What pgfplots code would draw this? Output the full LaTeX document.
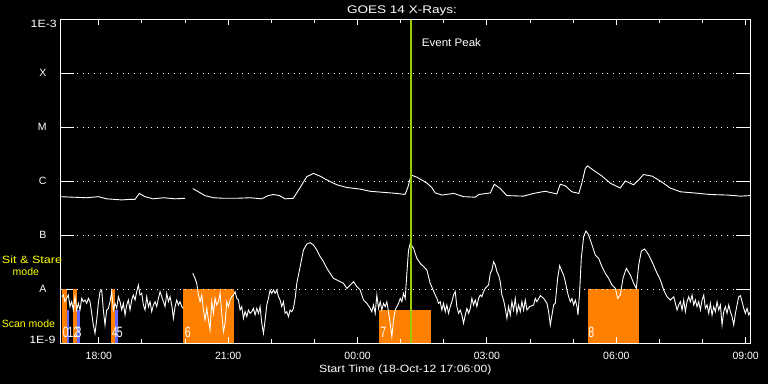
\documentclass[border=0pt]{standalone}
\usepackage{pgfplots}
\pgfplotsset{compat=1.18}
\usepackage{fontspec}
\setmainfont{Liberation Sans}
\definecolor{barorange}{RGB}{255,128,0}
\definecolor{barblue}{RGB}{102,102,255}
\definecolor{peakgreen}{RGB}{153,204,0}
\definecolor{labyellow}{RGB}{255,255,0}
\newcommand{\tf}{\fontsize{10.5}{12}\selectfont}
\newcommand{\tg}{\fontsize{11}{13}\selectfont}
\newcommand{\bignum}[1]{{\fontsize{15}{15}\selectfont\scalebox{0.7}[1]{#1}}}
\begin{document}
\begin{tikzpicture}[x=1pt,y=1pt]
\fill[black] (-60,-41) rectangle (708,343);
\begin{axis}[
  at={(0,0)}, anchor=south west,
  scale only axis, width=690pt, height=324pt,
  xmin=17.1, xmax=33.1, ymin=-9, ymax=-3,
  axis on top,
  axis line style={white, line width=0.9pt},
  xtick={18,21,24,27,30,33},
  xticklabels={18:00,21:00,00:00,03:00,06:00,09:00},
  minor xtick={19,20,22,23,25,26,28,29,31,32},
  major tick length=6pt, minor tick length=4pt,
  tick style={white, line width=0.9pt},
  ytick={-9,-8,-7,-6,-5,-4,-3},
  yticklabels={,A,B,C,M,X,},
  ytick style={draw=none},
  ymajorgrids,
  major grid style={white, line width=0.9pt, dash pattern=on 0.9pt off 4.8pt},
  /pgf/number format/assume math mode=true,
  ticklabel style={font=\tf, text=white},
  xticklabel style={anchor=base, yshift=-16pt, inner sep=0pt},
  yticklabel style={anchor=east, inner sep=0pt, xshift=-13.3pt},
  unbounded coords=jump,
]
% y tick segments (left and right)
\draw[white, line width=0.9pt] (axis cs:17.1,-8) -- (axis cs:17.425,-8);
\draw[white, line width=0.9pt] (axis cs:17.1,-7) -- (axis cs:17.425,-7);
\draw[white, line width=0.9pt] (axis cs:17.1,-6) -- (axis cs:17.425,-6);
\draw[white, line width=0.9pt] (axis cs:17.1,-5) -- (axis cs:17.425,-5);
\draw[white, line width=0.9pt] (axis cs:17.1,-4) -- (axis cs:17.425,-4);
\draw[white, line width=0.9pt] (axis cs:32.775,-8) -- (axis cs:33.1,-8);
\draw[white, line width=0.9pt] (axis cs:32.775,-7) -- (axis cs:33.1,-7);
\draw[white, line width=0.9pt] (axis cs:32.775,-6) -- (axis cs:33.1,-6);
\draw[white, line width=0.9pt] (axis cs:32.775,-5) -- (axis cs:33.1,-5);
\draw[white, line width=0.9pt] (axis cs:32.775,-4) -- (axis cs:33.1,-4);
% mode bars
\addplot[fill=barorange, draw=none] coordinates {(17.139,-9) (17.139,-8) (17.255,-8) (17.255,-9)} -- cycle;
\addplot[fill=barblue, draw=none] coordinates {(17.255,-9) (17.255,-8.389) (17.309,-8.389) (17.309,-9)} -- cycle;
\addplot[fill=barorange, draw=none] coordinates {(17.395,-9) (17.395,-8) (17.487,-8) (17.487,-9)} -- cycle;
\addplot[fill=barblue, draw=none] coordinates {(17.487,-9) (17.487,-8.389) (17.564,-8.389) (17.564,-9)} -- cycle;
\addplot[fill=barorange, draw=none] coordinates {(18.283,-9) (18.283,-8) (18.383,-8) (18.383,-9)} -- cycle;
\addplot[fill=barblue, draw=none] coordinates {(18.383,-9) (18.383,-8.389) (18.446,-8.389) (18.446,-9)} -- cycle;
\addplot[fill=barorange, draw=none] coordinates {(19.947,-9) (19.947,-8) (21.137,-8) (21.137,-9)} -- cycle;
\addplot[fill=barorange, draw=none] coordinates {(24.501,-9) (24.501,-8.389) (25.701,-8.389) (25.701,-9)} -- cycle;
\addplot[fill=barorange, draw=none] coordinates {(29.334,-9) (29.334,-8) (30.533,-8) (30.533,-9)} -- cycle;
% long channel (1-8 A)
\addplot[white, line width=0.9pt] coordinates {
(17.10,-6.29) (17.72,-6.31) (17.99,-6.29) (18.18,-6.33) (18.53,-6.35) (18.72,-6.34)
(18.84,-6.34) (18.94,-6.23) (19.07,-6.29) (19.26,-6.33) (19.50,-6.31) (19.77,-6.33)
(20.00,-6.32) (20.09,nan)
(20.18,-6.14) (20.31,-6.20) (20.46,-6.27) (20.66,-6.31) (20.89,-6.32) (21.20,-6.32)
(21.51,-6.31) (21.78,-6.33) (21.93,-6.27) (22.05,-6.25) (22.19,-6.27) (22.32,-6.33)
(22.51,-6.32) (22.67,-6.12) (22.82,-5.92) (22.98,-5.86) (23.13,-5.91) (23.29,-5.98)
(23.52,-6.07) (23.75,-6.12) (24.06,-6.15) (24.29,-6.19) (24.60,-6.21) (24.91,-6.23)
(25.10,-6.25) (25.17,-6.11) (25.24,-5.89) (25.38,-5.93) (25.61,-6.04) (25.72,-6.12)
(25.80,-6.22) (25.96,-6.26) (26.23,-6.23) (26.46,-6.29) (26.73,-6.30) (26.81,-6.25)
(27.08,-6.22) (27.17,-6.06) (27.31,-6.14) (27.46,-6.27) (27.85,-6.28) (28.08,-6.23)
(28.35,-6.19) (28.62,-6.24) (28.70,-6.06) (28.82,-6.09) (28.97,-6.20) (29.13,-6.23)
(29.20,-6.04) (29.28,-5.77) (29.33,-5.72) (29.47,-5.80) (29.67,-5.91) (29.86,-6.04)
(30.09,-6.13) (30.21,-6.00) (30.40,-6.07) (30.52,-5.98) (30.63,-5.88) (30.83,-5.91)
(31.02,-6.00) (31.25,-6.13) (31.49,-6.20) (31.79,-6.22) (32.18,-6.25) (32.57,-6.26)
(32.88,-6.28) (33.11,-6.27)
};
% short channel (0.5-4 A)
\addplot[white, line width=0.9pt] coordinates {
(17.139,-8.142) (17.177,-8.111) (17.216,-8.235) (17.255,-8.173) (17.293,-8.111) (17.332,-8.327)
(17.371,-8.235) (17.409,-8.389) (17.448,-8.142) (17.487,-8.389) (17.525,-8.265) (17.564,-8.389)
(17.603,-8.173) (17.641,-8.235) (17.680,-8.204) (17.719,-8.265) (17.757,-8.173) (17.796,-8.235)
(17.835,-8.451) (17.873,-8.667) (17.912,-8.821) (17.951,-8.574) (17.989,-8.265) (18.028,-8.049)
(18.067,-8.019) (18.105,-8.389) (18.144,-8.667) (18.183,-8.389) (18.221,-8.358) (18.260,-8.235)
(18.299,-8.049) (18.337,-8.389) (18.376,-8.265) (18.415,-8.358) (18.453,-8.142) (18.492,-8.235)
(18.531,-8.389) (18.569,-8.265) (18.608,-8.481) (18.647,-8.296) (18.685,-8.204) (18.724,-8.389)
(18.763,-8.204) (18.801,-8.111) (18.840,-8.204) (18.879,-8.049) (18.917,-7.926) (18.956,-8.111)
(18.995,-8.080) (19.034,-8.296) (19.072,-8.389) (19.111,-8.142) (19.150,-8.327) (19.188,-8.235)
(19.227,-8.420) (19.266,-8.296) (19.304,-8.235) (19.343,-8.327) (19.382,-8.173) (19.420,-8.049)
(19.459,-8.142) (19.498,-8.235) (19.536,-8.327) (19.575,-8.080) (19.614,-8.235) (19.652,-8.142)
(19.691,-8.296) (19.730,-8.543) (19.768,-8.327) (19.807,-8.204) (19.846,-8.296) (19.884,-8.235)
(19.923,-8.327) (19.962,-8.358) (20.07,nan)
(20.178,-7.710) (20.232,-7.802) (20.271,-7.895) (20.310,-8.111) (20.348,-8.235) (20.387,-8.111)
(20.426,-8.389) (20.464,-8.574) (20.503,-8.358) (20.542,-8.574) (20.580,-8.759) (20.619,-8.235)
(20.658,-8.451) (20.696,-8.173) (20.735,-8.296) (20.774,-8.235) (20.812,-8.080) (20.851,-8.451)
(20.890,-8.790) (20.928,-8.636) (20.967,-8.235) (21.006,-8.327) (21.044,-8.204) (21.083,-8.142)
(21.122,-8.111) (21.160,-8.049) (21.199,-8.173) (21.238,-8.204) (21.276,-8.389) (21.315,-8.327)
(21.354,-8.543) (21.392,-8.420) (21.431,-8.512) (21.470,-8.389) (21.508,-8.451) (21.547,-8.420)
(21.586,-8.358) (21.624,-8.481) (21.663,-8.358) (21.702,-8.451) (21.740,-8.327) (21.779,-8.636)
(21.818,-8.821) (21.856,-8.574) (21.895,-8.296) (21.934,-8.173) (21.972,-8.019) (22.011,-8.080)
(22.050,-8.019) (22.088,-8.080) (22.127,-8.019) (22.166,-8.142) (22.204,-8.204) (22.243,-8.327)
(22.282,-8.235) (22.320,-8.451) (22.359,-8.420) (22.398,-8.512) (22.436,-8.389) (22.475,-8.420)
(22.514,-8.358) (22.552,-8.173) (22.591,-7.895) (22.653,-7.648)
(22.746,-7.278) (22.823,-7.167) (22.901,-7.142) (22.978,-7.185) (23.055,-7.278) (23.133,-7.401)
(23.210,-7.494) (23.287,-7.617) (23.365,-7.710) (23.442,-7.802) (23.519,-7.833) (23.597,-7.864)
(23.674,-7.895) (23.751,-7.988) (23.829,-7.926) (23.906,-7.864) (23.983,-7.957) (24.061,-8.019)
(24.138,-8.204) (24.215,-8.265) (24.293,-8.358) (24.331,-8.420) (24.370,-8.296) (24.409,-8.451)
(24.447,-8.111) (24.486,-8.358) (24.525,-8.235) (24.563,-8.389) (24.602,-8.265) (24.641,-8.327)
(24.679,-8.235) (24.718,-8.420) (24.757,-8.636) (24.795,-8.883) (24.834,-8.574) (24.873,-8.389)
(24.911,-8.327) (24.950,-8.265) (24.989,-8.173) (25.027,-8.235) (25.066,-8.080) (25.105,-8.173)
(25.143,-7.710) (25.182,-7.278) (25.221,-7.154) (25.298,-7.247) (25.375,-7.432) (25.453,-7.525)
(25.530,-7.586) (25.607,-7.648) (25.685,-7.895) (25.801,-8.111) (25.839,-8.173) (25.878,-8.265)
(25.917,-8.235) (25.955,-8.389) (25.994,-8.265) (26.033,-8.420) (26.071,-8.296) (26.110,-8.451)
(26.149,-8.327) (26.187,-8.235) (26.226,-8.111) (26.265,-8.049) (26.303,-8.327) (26.342,-8.451)
(26.381,-8.389) (26.419,-8.481) (26.458,-8.636) (26.497,-8.481) (26.535,-8.358) (26.574,-8.451)
(26.613,-8.358) (26.651,-8.173) (26.690,-8.296) (26.729,-8.204) (26.767,-8.327) (26.806,-8.173)
(26.845,-8.111) (26.883,-8.142) (26.922,-8.049) (26.961,-7.988) (26.999,-7.957) (27.038,-7.926)
(27.077,-7.710) (27.115,-7.648) (27.154,-7.494) (27.193,-7.556) (27.231,-7.679) (27.270,-7.741)
(27.309,-7.864) (27.347,-8.111) (27.386,-8.204) (27.425,-8.358) (27.463,-8.543) (27.502,-8.327)
(27.541,-8.481) (27.579,-8.235) (27.618,-8.389) (27.657,-8.173) (27.695,-8.451) (27.734,-8.296)
(27.773,-8.420) (27.811,-8.235) (27.850,-8.389) (27.889,-8.204) (27.927,-8.389) (27.989,-8.327)
(28.082,-8.296) (28.121,-8.173) (28.160,-8.235) (28.237,-8.123) (28.314,-8.173) (28.392,-8.265)
(28.430,-8.420) (28.469,-8.667) (28.508,-8.482) (28.546,-8.296) (28.585,-8.265) (28.639,-7.802)
(28.686,-7.568) (28.740,-7.679) (28.778,-7.741) (28.817,-7.864) (28.856,-8.019) (28.894,-8.142)
(28.933,-8.235) (28.972,-8.173) (29.010,-8.296) (29.049,-8.204) (29.088,-8.327) (29.111,-8.482)
(29.150,-8.049) (29.188,-7.432) (29.242,-7.031) (29.297,-6.926) (29.358,-7.000) (29.436,-7.185)
(29.513,-7.370) (29.590,-7.432) (29.668,-7.586) (29.745,-7.710) (29.822,-7.802) (29.900,-7.926)
(29.977,-7.988) (30.031,-8.173) (30.093,-8.111) (30.155,-7.802) (30.232,-7.617) (30.325,-7.741)
(30.403,-7.895) (30.464,-7.988) (30.519,-7.556) (30.580,-7.296) (30.658,-7.259) (30.751,-7.370)
(30.828,-7.494) (30.928,-7.679) (31.021,-7.833) (31.099,-8.019) (31.176,-8.142) (31.253,-8.204)
(31.331,-8.142) (31.408,-8.389) (31.447,-8.296) (31.485,-8.235) (31.524,-8.389) (31.563,-8.204)
(31.601,-8.420) (31.640,-8.235) (31.679,-8.142) (31.717,-8.235) (31.756,-8.111) (31.795,-8.296)
(31.833,-8.204) (31.872,-8.327) (31.911,-8.235) (31.949,-8.389) (31.988,-8.204) (32.027,-8.111)
(32.065,-8.358) (32.104,-8.296) (32.143,-8.451) (32.181,-8.265) (32.220,-8.482) (32.259,-8.327)
(32.297,-8.420) (32.336,-8.235) (32.375,-8.389) (32.413,-8.296) (32.452,-8.667) (32.491,-8.420)
(32.529,-8.327) (32.568,-8.451) (32.607,-8.296) (32.645,-8.420) (32.684,-8.512) (32.723,-8.667)
(32.761,-8.451) (32.800,-8.296) (32.839,-8.142) (32.877,-8.123) (32.916,-8.235) (32.955,-8.358)
(32.993,-8.451) (33.032,-8.358) (33.071,-8.482) (33.125,-8.389)
};
% event peak
\addplot[peakgreen, line width=2pt] coordinates {(25.24,-9) (25.24,-3)};
% bar numbers
\node[anchor=south west, inner sep=0pt, text=white] at (axis cs:17.16,-8.91) {\bignum{0}};
\node[anchor=south west, inner sep=0pt, text=white] at (axis cs:17.27,-8.91) {\bignum{1}};
\node[anchor=south west, inner sep=0pt, text=white] at (axis cs:17.405,-8.91) {\bignum{2}};
\node[anchor=south west, inner sep=0pt, text=white] at (axis cs:17.46,-8.91) {\bignum{3}};
\node[anchor=south west, inner sep=0pt, text=white] at (axis cs:18.30,-8.91) {\bignum{4}};
\node[anchor=south west, inner sep=0pt, text=white] at (axis cs:18.415,-8.91) {\bignum{5}};
\node[anchor=south west, inner sep=0pt, text=white] at (axis cs:19.99,-8.91) {\bignum{6}};
\node[anchor=south west, inner sep=0pt, text=white] at (axis cs:24.525,-8.91) {\bignum{7}};
\node[anchor=south west, inner sep=0pt, text=white] at (axis cs:29.35,-8.91) {\bignum{8}};
\end{axis}
% texts outside the plot area
\node[anchor=base, inner sep=0pt, text=white, font=\tg] at (342,329.5) {\scalebox{1.23}[1]{GOES 14 X-Rays:}};
\node[anchor=base west, inner sep=0pt, text=white, font=\tg] at (361.7,296.3) {\scalebox{1.05}[1]{Event Peak}};
\node[anchor=base west, inner sep=0pt, text=white, font=\tf] at (259,-29) {\scalebox{1.16}[1]{Start Time (18-Oct-12 17:06:00)}};
\node[anchor=base west, inner sep=0pt, text=labyellow, font=\tf] at (-58.3,79.7) {\scalebox{1.2}[1]{Sit \& Stare}};
\node[anchor=base west, inner sep=0pt, text=labyellow, font=\tf] at (-47.5,68) {mode};
\node[anchor=base west, inner sep=0pt, text=labyellow, font=\tf] at (-58.3,15.7) {Scan mode};
\node[anchor=north east, inner sep=0pt, text=white, font=\tf] at (-3,323.5) {\scalebox{1.18}[1]{1E-3}};
\node[anchor=south east, inner sep=0pt, text=white, font=\tf] at (-4.3,-1) {\scalebox{1.18}[1]{1E-9}};
\end{tikzpicture}
\end{document}
